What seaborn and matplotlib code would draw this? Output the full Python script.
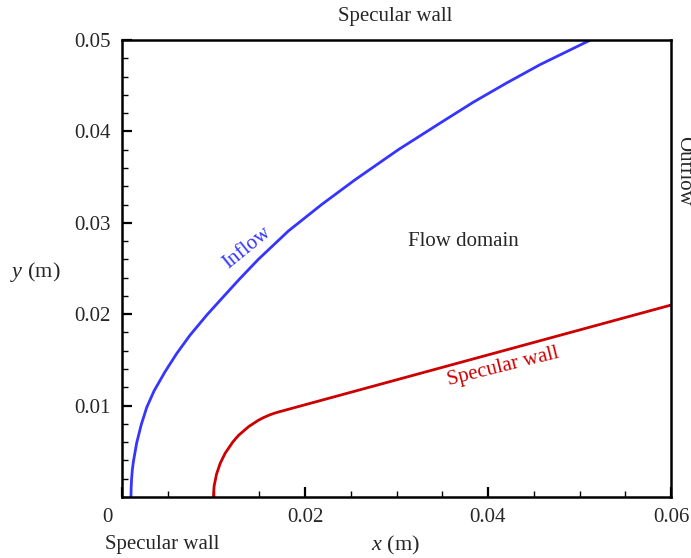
import numpy as np
import pandas as pd
import matplotlib
matplotlib.use("Agg")
import matplotlib.pyplot as plt
import seaborn as sns
from matplotlib.ticker import MultipleLocator

# === curves (x, y in m) ===
inflow_x = [0.00098, 0.00100, 0.00105, 0.00113, 0.00125, 0.00160, 0.00210, 0.00270,
            0.00350, 0.00470, 0.00598, 0.00743, 0.00926, 0.01107, 0.01280, 0.01490,
            0.01818, 0.02182, 0.02546, 0.03020, 0.03475, 0.03840, 0.04204, 0.04568,
            0.05079, 0.05120]
inflow_y = [0.0000, 0.0010, 0.0020, 0.0030, 0.0039, 0.0059, 0.0079, 0.0098,
            0.0116, 0.0137, 0.0157, 0.0177, 0.0199, 0.0219, 0.0238, 0.0260,
            0.0291, 0.0320, 0.0347, 0.0380, 0.0409, 0.0432, 0.0453, 0.0473,
            0.0498, 0.0500]

wall_x = [0.01000, 0.01001, 0.01007, 0.01033, 0.01074, 0.01128, 0.01210, 0.01252,
          0.01280, 0.01384, 0.01491, 0.01549, 0.01619, 0.01676, 0.01710, 0.06000]
wall_y = [0.0000, 0.0004, 0.0012, 0.0025, 0.0037, 0.0048, 0.0060, 0.0065,
          0.0068, 0.0077, 0.0084, 0.0087, 0.0090, 0.0092, 0.0093, 0.0210]

x_ticks = [0, 0.02, 0.04, 0.06]
x_labels = ['', '0.02', '0.04', '0.06']
y_ticks = [0.01, 0.02, 0.03, 0.04, 0.05]
y_labels = ['0.01', '0.02', '0.03', '0.04', '0.05']

blue = '#3535ff'
red = '#cc0000'

df_in = pd.DataFrame({'x': inflow_x, 'y': inflow_y})
df_wall = pd.DataFrame({'x': wall_x, 'y': wall_y})

sns.set_style("ticks")
plt.rcParams['font.family'] = ['Liberation Serif', 'DejaVu Serif']
plt.rcParams['mathtext.fontset'] = 'custom'
plt.rcParams['mathtext.rm'] = 'Liberation Serif'
plt.rcParams['mathtext.it'] = 'Liberation Serif:italic'
plt.rcParams['font.size'] = 15

fig = plt.figure(figsize=(6.91, 5.58), dpi=100)
W, H = 691, 558
ax = fig.add_axes([122 / W, 1 - 497 / H, 549 / W, 457 / H])

sns.lineplot(data=df_in, x='x', y='y', sort=False, color=blue, lw=2, ax=ax)
sns.lineplot(data=df_wall, x='x', y='y', sort=False, color=red, lw=2, ax=ax)

ax.set_xlim(0, 0.06)
ax.set_ylim(0, 0.05)
ax.set_xticks(x_ticks)
ax.set_xticklabels(x_labels)
ax.set_yticks(y_ticks)
ax.set_yticklabels(y_labels)
ax.xaxis.set_minor_locator(MultipleLocator(0.005))
ax.yaxis.set_minor_locator(MultipleLocator(0.002))
ax.tick_params(which='both', direction='in', top=False, right=False, labelsize=15, color='black')
ax.tick_params(which='major', length=7, width=1.6, pad=8)
ax.tick_params(which='minor', length=4, width=1.0)
for s in ax.spines.values():
    s.set_linewidth(1.8)
    s.set_color('black')
ax.set_xlabel('')
ax.set_ylabel('')

# texts outside the frame
fig.text(107 / W, 1 - 517 / H, '0', ha='center', va='center', fontsize=15)
fig.text(395 / W, 1 - 545 / H, '$x$ (m)', ha='center', va='center', fontsize=16)
fig.text(35 / W, 1 - 272 / H, '$y$ (m)', ha='center', va='center', fontsize=16)
fig.text(395 / W, 1 - 17 / H, 'Specular wall', ha='center', va='center', fontsize=15)
fig.text(162 / W, 1 - 545 / H, 'Specular wall', ha='center', va='center', fontsize=15)
fig.text(679 / W, 1 - 171 / H, 'Outflow', ha='center', va='baseline', fontsize=15,
         rotation=-90, rotation_mode='anchor')

# texts inside the frame
fig.text(463 / W, 1 - 242 / H, 'Flow domain', ha='center', va='center', fontsize=15)
fig.text(247 / W, 1 - 248 / H, 'Inflow', ha='center', va='center', fontsize=15,
         color=blue, rotation=39, rotation_mode='anchor')
fig.text(503 / W, 1 - 367 / H, 'Specular wall', ha='center', va='center', fontsize=15,
         color=red, rotation=14, rotation_mode='anchor')

fig.savefig('out.png', dpi=100)
